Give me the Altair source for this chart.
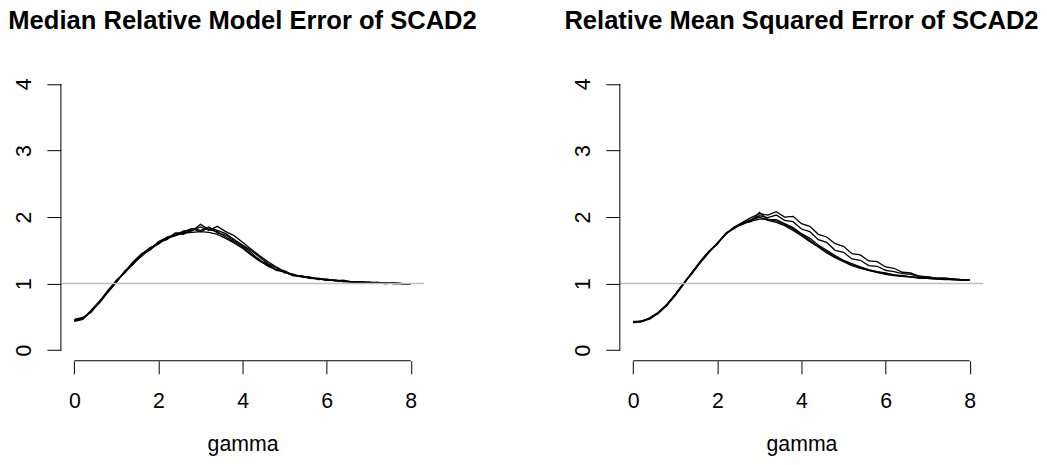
import altair as alt
import pandas as pd

# ---------------- data ----------------
gamma = [0.0, 0.2, 0.4, 0.6, 0.8, 1.0, 1.2, 1.4, 1.6, 1.8,
         2.0, 2.2, 2.4, 2.6, 2.8, 3.0, 3.2, 3.4, 3.6, 3.8,
         4.0, 4.2, 4.4, 4.6, 4.8, 5.0, 5.2, 5.4, 5.6, 5.8,
         6.0, 6.2, 6.4, 6.6, 6.8, 7.0, 7.2, 7.4, 7.6, 7.8, 8.0]

mrme_1 = [0.44, 0.47, 0.58, 0.72, 0.88, 1.03, 1.17, 1.30, 1.42, 1.52, 1.60, 1.68, 1.72, 1.76, 1.77, 1.78, 1.77, 1.74, 1.68, 1.61,
          1.53, 1.43, 1.34, 1.27, 1.21, 1.17, 1.13, 1.11, 1.09, 1.07, 1.06, 1.05, 1.04, 1.03, 1.02, 1.02, 1.01, 1.01, 1.01, 1.00, 1.00]
mrme_2 = [0.46, 0.49, 0.57, 0.73, 0.90, 1.04, 1.18, 1.33, 1.45, 1.50, 1.62, 1.66, 1.75, 1.74, 1.82, 1.78, 1.84, 1.80, 1.75, 1.66,
          1.58, 1.50, 1.40, 1.30, 1.24, 1.16, 1.14, 1.10, 1.10, 1.06, 1.07, 1.04, 1.05, 1.02, 1.03, 1.01, 1.02, 1.00, 1.01, 1.00, 1.00]
mrme_3 = [0.43, 0.46, 0.59, 0.71, 0.87, 1.02, 1.19, 1.29, 1.44, 1.54, 1.59, 1.70, 1.73, 1.79, 1.80, 1.85, 1.80, 1.86, 1.78, 1.72,
          1.62, 1.52, 1.42, 1.33, 1.25, 1.18, 1.12, 1.12, 1.08, 1.08, 1.05, 1.05, 1.03, 1.03, 1.02, 1.01, 1.01, 1.01, 1.00, 1.00, 1.00]
mrme_4 = [0.45, 0.48, 0.58, 0.72, 0.89, 1.05, 1.16, 1.31, 1.41, 1.53, 1.61, 1.67, 1.76, 1.76, 1.79, 1.89, 1.81, 1.78, 1.70, 1.62,
          1.55, 1.44, 1.36, 1.26, 1.21, 1.19, 1.13, 1.10, 1.09, 1.07, 1.06, 1.04, 1.04, 1.02, 1.02, 1.02, 1.01, 1.00, 1.01, 1.00, 1.00]
mrme_5 = [0.44, 0.47, 0.60, 0.74, 0.88, 1.03, 1.18, 1.30, 1.43, 1.51, 1.63, 1.69, 1.72, 1.78, 1.83, 1.80, 1.85, 1.76, 1.73, 1.64,
          1.57, 1.47, 1.35, 1.29, 1.20, 1.18, 1.12, 1.11, 1.08, 1.07, 1.05, 1.05, 1.03, 1.03, 1.02, 1.01, 1.01, 1.01, 1.00, 1.00, 1.00]

rmse_1 = [0.42, 0.43, 0.48, 0.56, 0.68, 0.83, 1.00, 1.16, 1.33, 1.48, 1.60, 1.75, 1.84, 1.90, 1.94, 1.97, 1.97, 1.94, 1.89, 1.82,
          1.74, 1.65, 1.56, 1.48, 1.40, 1.34, 1.28, 1.24, 1.20, 1.17, 1.15, 1.13, 1.11, 1.10, 1.09, 1.08, 1.07, 1.07, 1.06, 1.06, 1.05]
rmse_2 = [0.41, 0.43, 0.49, 0.57, 0.69, 0.84, 1.01, 1.17, 1.32, 1.47, 1.61, 1.74, 1.85, 1.92, 1.99, 2.05, 2.03, 2.08, 2.00, 2.01,
          1.90, 1.86, 1.74, 1.70, 1.60, 1.56, 1.45, 1.43, 1.34, 1.33, 1.25, 1.23, 1.17, 1.16, 1.11, 1.10, 1.08, 1.08, 1.07, 1.06, 1.06]
rmse_3 = [0.42, 0.44, 0.48, 0.55, 0.68, 0.82, 0.99, 1.17, 1.34, 1.49, 1.59, 1.76, 1.83, 1.91, 1.96, 2.02, 1.99, 2.03, 1.95, 1.93,
          1.82, 1.78, 1.66, 1.62, 1.50, 1.47, 1.37, 1.35, 1.27, 1.26, 1.20, 1.18, 1.15, 1.14, 1.11, 1.10, 1.08, 1.08, 1.07, 1.06, 1.05]
rmse_4 = [0.43, 0.43, 0.47, 0.56, 0.67, 0.83, 1.01, 1.15, 1.33, 1.48, 1.61, 1.74, 1.85, 1.89, 1.95, 2.00, 1.95, 1.92, 1.87, 1.80,
          1.72, 1.63, 1.55, 1.46, 1.39, 1.33, 1.27, 1.23, 1.20, 1.17, 1.14, 1.12, 1.11, 1.10, 1.08, 1.08, 1.07, 1.06, 1.06, 1.05, 1.05]
rmse_5 = [0.42, 0.43, 0.48, 0.57, 0.68, 0.84, 1.00, 1.16, 1.32, 1.47, 1.60, 1.75, 1.83, 1.91, 1.93, 2.07, 1.96, 1.96, 1.90, 1.84,
          1.75, 1.68, 1.58, 1.50, 1.42, 1.35, 1.30, 1.25, 1.21, 1.18, 1.16, 1.13, 1.12, 1.10, 1.09, 1.08, 1.07, 1.07, 1.06, 1.06, 1.05]

left_title = "Median Relative Model Error of SCAD2"
right_title = "Relative Mean Squared Error of SCAD2"
x_label = "gamma"
x_ticks = [0, 2, 4, 6, 8]
y_ticks = [0, 1, 2, 3, 4]
ref_level = [1.0]

# ---------------- chart ----------------
FONT = "Liberation Sans"
X_DOMAIN = [-0.32, 8.32]
Y_DOMAIN = [-0.16, 4.16]
W, H = 364, 288


def panel(curves, title):
    rows = []
    for name, vals in curves.items():
        for g, v in zip(gamma, vals):
            rows.append({"gamma": g, "value": v, "run": name})
    df = pd.DataFrame(rows)

    xs = alt.Scale(domain=X_DOMAIN, nice=False, zero=False)
    ys = alt.Scale(domain=Y_DOMAIN, nice=False, zero=False)

    xaxis = alt.Axis(values=x_ticks, domain=False, grid=False, tickSize=13,
                     tickColor="black", tickWidth=1, labelFontSize=21.33,
                     labelFont=FONT, labelColor="black", labelPadding=17,
                     labelFlush=False, labelOverlap=False, format="d",
                     title=x_label, titleFont=FONT, titleFontSize=21.33,
                     titleFontWeight="normal", titleColor="black",
                     titleBaseline="alphabetic", titleY=90)
    yaxis = alt.Axis(values=y_ticks, domain=False, grid=False, tickSize=14,
                     tickColor="black", tickWidth=1, labelFontSize=21.33,
                     labelFont=FONT, labelColor="black", labelAngle=270,
                     labelAlign="center", labelBaseline="bottom",
                     labelPadding=12, labelFlush=False, labelOverlap=False,
                     format="d", title=None)

    ref = alt.Chart(pd.DataFrame({"level": ref_level})).mark_rule(
        color="#BEBEBE", strokeWidth=1.4
    ).encode(y=alt.Y("level:Q", scale=ys, axis=yaxis))

    lines = alt.Chart(df).mark_line(color="black", strokeWidth=1.3).encode(
        x=alt.X("gamma:Q", scale=xs, axis=xaxis),
        y=alt.Y("value:Q", scale=ys, axis=yaxis),
        detail="run:N",
    )

    xline = alt.Chart(pd.DataFrame({"a": [x_ticks[0]], "b": [x_ticks[-1]], "y": [Y_DOMAIN[0]]})).mark_rule(
        color="black", strokeWidth=1
    ).encode(x=alt.X("a:Q", scale=xs, axis=xaxis), x2="b:Q", y=alt.Y("y:Q", scale=ys, axis=yaxis))

    yline = alt.Chart(pd.DataFrame({"a": [y_ticks[0]], "b": [y_ticks[-1]], "x": [X_DOMAIN[0]]})).mark_rule(
        color="black", strokeWidth=1
    ).encode(y=alt.Y("a:Q", scale=ys, axis=yaxis), y2="b:Q", x=alt.X("x:Q", scale=xs, axis=xaxis))

    return alt.layer(lines, ref, xline, yline).properties(
        width=W, height=H,
        title=alt.TitleParams(text=title, font=FONT, fontSize=25.6, fontWeight="bold",
                              color="black", anchor="middle", frame="group",
                              baseline="alphabetic", offset=19),
    )


left = panel({"a": mrme_1, "b": mrme_2, "c": mrme_3, "d": mrme_4, "e": mrme_5}, left_title)
right = panel({"a": rmse_1, "b": rmse_2, "c": rmse_3, "d": rmse_4, "e": rmse_5}, right_title)

chart = alt.hconcat(left, right, spacing=196, bounds="flush").properties(
    padding=0, background="white"
).configure_view(stroke=None)

chart.save("out.html", embed_options={"renderer": "svg", "actions": False})
